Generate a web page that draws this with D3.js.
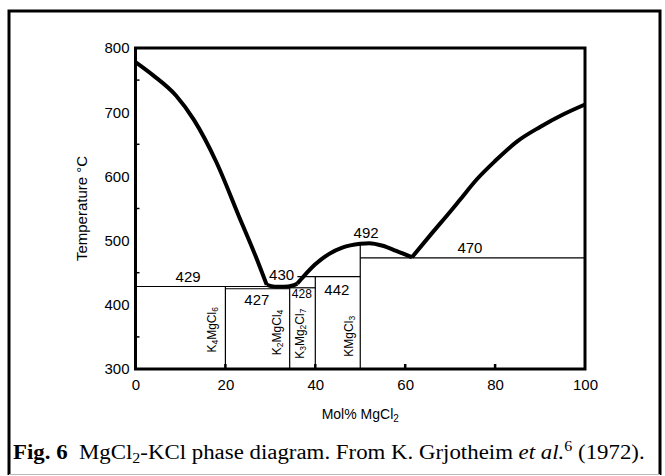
<!DOCTYPE html>
<html>
<head>
<meta charset="utf-8">
<script src="https://cdn.jsdelivr.net/npm/d3@7"></script>
<style>
  body { margin: 0; background: #fff; }
  svg { display: block; font-family: "Liberation Sans", Arial, sans-serif; }
</style>
</head>
<body>
<div id="chart"></div>
<script>
// Axis ticks
const xTicks = [0, 20, 40, 60, 80, 100];
const yTicks = [300, 400, 500, 600, 700, 800];
const xMinorTicks = [20, 40, 60, 80];
const yMinorTicks = [350, 450, 550, 650, 750];

// Liquidus (Mol% MgCl2, °C), split at the eutectics
const liquidusKCl = [[0, 778], [4, 757], [9, 726], [13, 688], [18, 622], [23, 538], [27, 471], [29.2, 431]];
const liquidusDip = [[29.2, 431], [31, 428], [33, 428], [35, 430], [36, 433]];
const liquidusDome = [[36, 433], [37.5, 445], [40, 463], [43, 479], [46, 489], [50, 495], [52, 496], [55, 492], [58, 484], [61.5, 474]];
const liquidusMgCl2 = [[61.5, 474], [66, 512], [70, 545], [72, 562], [76, 596], [80, 624], [85, 655], [90, 677], [95, 696], [100, 712]];

// Eutectic / peritectic lines: [x1, x2, T]
const horizLines = [[0, 34.3, 428.5], [20, 34.3, 425], [34.3, 40, 426.5], [36, 50, 444], [50, 100, 473]];
// Compound lines: [x, Ttop]
const vertLines = [[20, 428.5], [34.3, 428.5], [40, 444], [50, 494]];

// Temperature labels
const tempLabels = ["429", "427", "430", "428", "442", "492", "470"];
const tempLabelX = [11.7, 27, 32.5, 37, 44.8, 51.3, 74.4];
const tempLabelT = [436, 400, 438.6, 410, 415, 503.6, 480];
const tempLabelSize = [15, 15, 15, 12, 15, 15, 15];

// Compound names: parts [text, isSubscript]
const compounds = [
  [["K", 0], ["4", 1], ["MgCl", 0], ["6", 1]],
  [["K", 0], ["2", 1], ["MgCl", 0], ["4", 1]],
  [["K", 0], ["3", 1], ["Mg", 0], ["2", 1], ["Cl", 0], ["7", 1]],
  [["KMgCl", 0], ["3", 1]]
];
const compoundX = [17.7, 32.1, 37.3, 48.1];
const compoundT = [361, 357, 355, 351];

const W = 665, H = 476;
const svg = d3.select("#chart").append("svg")
    .attr("width", W)
    .attr("height", H);

// Outer frame
svg.append("path")
    .attr("d", "M9,475 L9,11 L660,11 L660,475")
    .attr("fill", "none")
    .attr("stroke", "#000")
    .attr("stroke-width", 3);
svg.append("line")
    .attr("x1", 9).attr("x2", 660).attr("y1", 474.5).attr("y2", 474.5)
    .attr("stroke", "#bbb").attr("stroke-width", 1);

const x = d3.scaleLinear().domain([0, 100]).range([135.5, 585]);
const y = d3.scaleLinear().domain([300, 800]).range([369, 48]);

const g = svg.append("g");

// Thin phase boundary lines
g.selectAll(".hline").data(horizLines).join("line")
    .attr("x1", d => x(d[0])).attr("x2", d => x(d[1]))
    .attr("y1", d => y(d[2])).attr("y2", d => y(d[2]))
    .attr("stroke", "#000").attr("stroke-width", 1.2);

g.selectAll(".vline").data(vertLines).join("line")
    .attr("x1", d => x(d[0])).attr("x2", d => x(d[0]))
    .attr("y1", d => y(d[1])).attr("y2", y(300))
    .attr("stroke", "#000").attr("stroke-width", 1.2);

// Liquidus curve
const line = d3.line()
    .x(d => x(d[0]))
    .y(d => y(d[1]))
    .curve(d3.curveMonotoneX);

[liquidusKCl, liquidusDip, liquidusDome, liquidusMgCl2].forEach(seg => {
  g.append("path")
      .datum(seg)
      .attr("fill", "none")
      .attr("stroke", "#000")
      .attr("stroke-width", 4)
      .attr("stroke-linejoin", "miter")
      .attr("d", line);
});

// Plot frame
g.append("rect")
    .attr("x", x(0)).attr("y", y(800))
    .attr("width", x(100) - x(0)).attr("height", y(300) - y(800))
    .attr("fill", "none")
    .attr("stroke", "#000")
    .attr("stroke-width", 3);

// Inner minor ticks
g.selectAll(".xtick").data(xMinorTicks).join("line")
    .attr("x1", d => x(d)).attr("x2", d => x(d))
    .attr("y1", y(300)).attr("y2", y(300) - 5)
    .attr("stroke", "#000").attr("stroke-width", 2.5);
g.selectAll(".ytick").data(yMinorTicks).join("line")
    .attr("x1", x(0)).attr("x2", x(0) + 4)
    .attr("y1", d => y(d)).attr("y2", d => y(d))
    .attr("stroke", "#000").attr("stroke-width", 1.5);

// Axis labels
const xAxis = g.append("g")
    .attr("transform", `translate(0,${y(300)})`)
    .call(d3.axisBottom(x).tickValues(xTicks).tickSize(0).tickPadding(10));
const yAxis = g.append("g")
    .attr("transform", `translate(${x(0)},0)`)
    .call(d3.axisLeft(y).tickValues(yTicks).tickSize(0).tickPadding(6));
[xAxis, yAxis].forEach(a => {
  a.select(".domain").remove();
  a.selectAll("text")
      .attr("fill", "#000")
      .style("font-size", "15px")
      .style("font-family", "'Liberation Sans', Arial, sans-serif");
});

// Temperature labels
g.selectAll(".tlabel").data(tempLabels).join("text")
    .attr("x", (d, i) => x(tempLabelX[i]))
    .attr("y", (d, i) => y(tempLabelT[i]))
    .attr("text-anchor", "middle")
    .style("font-size", (d, i) => tempLabelSize[i] + "px")
    .text(d => d);

// Compound labels (rotated)
compounds.forEach((parts, i) => {
  const t = g.append("text")
      .attr("transform", `translate(${x(compoundX[i])},${y(compoundT[i])}) rotate(-90)`)
      .attr("text-anchor", "middle")
      .attr("dominant-baseline", "central")
      .style("font-size", "12px");
  parts.forEach(([s, sub]) => {
    t.append("tspan")
        .attr("dy", sub ? 3 : (t.selectAll("tspan").size() > 0 ? -3 : 0))
        .style("font-size", sub ? "8.5px" : "12px")
        .text(s);
  });
});

// Y label
g.append("text")
    .attr("transform", `translate(87,${(y(300) + y(800)) / 2}) rotate(-90)`)
    .attr("text-anchor", "middle")
    .style("font-size", "15px")
    .text("Temperature \u00B0C");

// X label
const xl = g.append("text")
    .attr("x", (x(0) + x(100)) / 2)
    .attr("y", 419)
    .attr("text-anchor", "middle")
    .style("font-size", "14px");
xl.append("tspan").text("Mol% MgCl");
xl.append("tspan").attr("dy", 3).style("font-size", "10px").text("2");

// Caption
const cap = svg.append("text")
    .attr("x", 13)
    .attr("y", 459)
    .style("font-family", "'Liberation Serif', 'Times New Roman', serif")
    .style("font-size", "20px");
cap.append("tspan").style("font-weight", "bold").text("Fig. 6");
cap.append("tspan").text("\u00A0 MgCl");
cap.append("tspan").attr("dy", 4).style("font-size", "14px").text("2");
cap.append("tspan").attr("dy", -4).text("-KCl phase diagram. From K. Grjotheim ");
cap.append("tspan").style("font-style", "italic").text("et al.");
cap.append("tspan").attr("dy", -8).style("font-size", "14px").text("6");
cap.append("tspan").attr("dy", 8).text(" (1972).");

// squeeze caption to the original width
const capW = cap.node().getBBox().width;
const targetW = 632;
cap.attr("transform", `translate(13,0) scale(${targetW / capW},1) translate(-13,0)`);
</script>
</body>
</html>
